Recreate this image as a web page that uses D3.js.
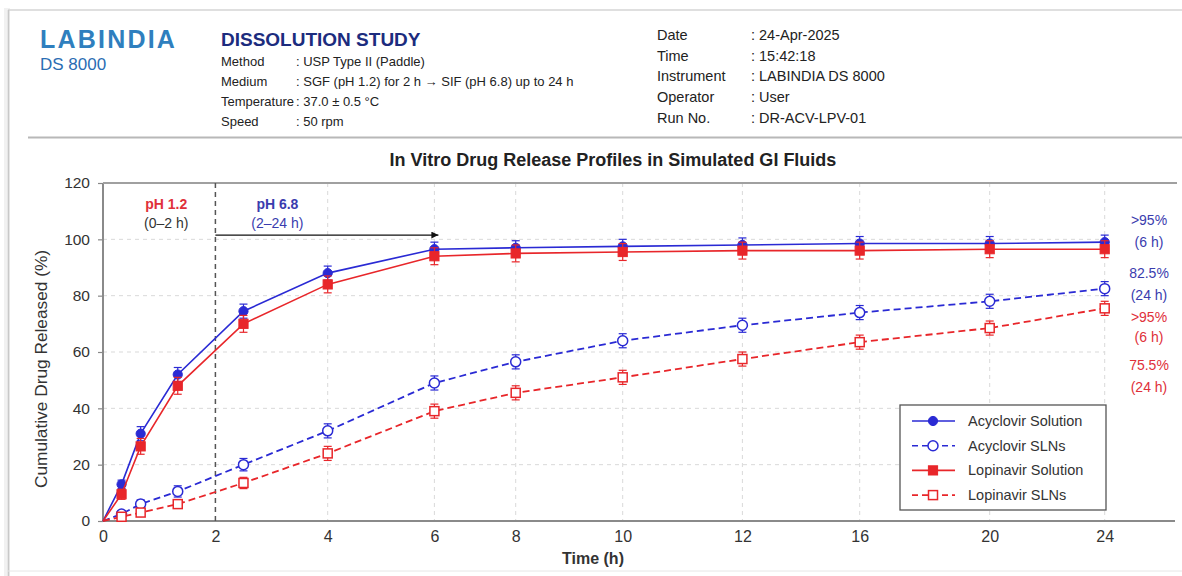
<!DOCTYPE html>
<html>
<head>
<meta charset="utf-8">
<script src="https://cdn.jsdelivr.net/npm/d3@7"></script>
<style>
  html, body { margin: 0; padding: 0; background: #fff; }
  svg { display: block; font-family: "Liberation Sans", Arial, Helvetica, sans-serif; }
</style>
</head>
<body>
<svg id="chart" width="1182" height="576"></svg>
<script>
// ---- Data ----
const timePoints = [0, 0.33, 0.67, 1.33, 2.5, 4, 6, 8, 10, 12, 16, 20, 24];
const acvSolution = [0, 13, 31, 52, 74.5, 88, 96.5, 97, 97.5, 98, 98.5, 98.5, 99];
const acvSolutionSD = [0, 1.5, 2.5, 2.5, 2.5, 2.5, 2.5, 2.5, 2.5, 2.5, 2.5, 2.5, 2.5];
const acvSLN = [0, 2.5, 6, 10.5, 20, 32, 49, 56.5, 64, 69.5, 74, 78, 82.5];
const acvSLNSD = [0, 1.2, 1.5, 2, 2.2, 2.5, 2.5, 2.5, 2.5, 2.5, 2.5, 2.5, 2.5];
const lpvSolution = [0, 9.5, 26.5, 48, 70, 84, 94, 95, 95.5, 96, 96, 96.5, 96.5];
const lpvSolutionSD = [0, 1.8, 2.8, 3, 3, 3, 3, 3, 3, 3, 3, 3, 3];
const lpvSLN = [0, 1.5, 3, 6, 13.5, 24, 39, 45.5, 51, 57.5, 63.5, 68.5, 75.5];
const lpvSLNSD = [0, 1, 1.2, 1.5, 2, 2.5, 2.5, 2.5, 2.5, 2.5, 2.5, 2.5, 2.5];

const xTickValues = [0, 2, 4, 6, 8, 10, 12, 16, 20, 24];
const yTickValues = [0, 20, 40, 60, 80, 100, 120];

const seriesNames = ["Acyclovir Solution", "Acyclovir SLNs", "Lopinavir Solution", "Lopinavir SLNs"];

const headerInfo = [
  ["Method", "USP Type II (Paddle)"],
  ["Medium", "SGF (pH 1.2) for 2 h \u2192 SIF (pH 6.8) up to 24 h"],
  ["Temperature", "37.0 \u00b1 0.5 \u00b0C"],
  ["Speed", "50 rpm"]
];
const runInfo = [
  ["Date", "24-Apr-2025"],
  ["Time", "15:42:18"],
  ["Instrument", "LABINDIA DS 8000"],
  ["Operator", "User"],
  ["Run No.", "DR-ACV-LPV-01"]
];

// ---- Layout ----
const BLUE = "#2a2ad4";
const RED = "#e8262a";
const BLUE_TXT = "#3a3cae";
const RED_TXT = "#e0303a";

const plotLeft = 103, plotTop = 183, plotBottom = 521, plotRight = 1177;
// the time axis is piecewise: each labelled tick sits at its own offset from the origin
const xTickOffsets = [0, 112.4, 224.7, 331.4, 412.7, 519.7, 639.4, 756.7, 886.7, 1001.7];

const svg = d3.select("#chart");

const x = d3.scaleLinear()
  .domain(xTickValues)
  .range(xTickOffsets.map(o => plotLeft + o));
const y = d3.scaleLinear().domain([0, 120]).range([plotBottom, plotTop]);

// ---- Card / header frame ----
svg.append("rect").attr("x", 0).attr("y", 0).attr("width", 1182).attr("height", 576).attr("fill", "#fff");
svg.append("rect").attr("x", 4).attr("y", 8).attr("width", 6).attr("height", 570).attr("fill", "#f1f1f1");
svg.append("line").attr("x1", 8).attr("x2", 1182).attr("y1", 10).attr("y2", 10)
  .attr("stroke", "#d4d4d4").attr("stroke-width", 1.5);
svg.append("line").attr("x1", 8.5).attr("x2", 8.5).attr("y1", 10).attr("y2", 576)
  .attr("stroke", "#c8c8c8").attr("stroke-width", 1.5);
svg.append("line").attr("x1", 28).attr("x2", 1182).attr("y1", 137.5).attr("y2", 137.5)
  .attr("stroke", "#b8b8b8").attr("stroke-width", 2);
svg.append("line").attr("x1", 8).attr("x2", 1182).attr("y1", 571).attr("y2", 571)
  .attr("stroke", "#e6e6e6").attr("stroke-width", 1);

// brand block
svg.append("text").attr("x", 40).attr("y", 48)
  .attr("font-size", 25).attr("font-weight", "bold").attr("letter-spacing", 2.2)
  .attr("fill", "#2f7fbe").text("LABINDIA");
svg.append("text").attr("x", 40).attr("y", 70)
  .attr("font-size", 17).attr("fill", "#2a6db3").text("DS 8000");

// study block
svg.append("text").attr("x", 221).attr("y", 46)
  .attr("font-size", 19).attr("font-weight", "bold").attr("fill", "#1c2c7e")
  .text("DISSOLUTION STUDY");
const hdr = svg.append("g").attr("font-size", 13).attr("fill", "#222");
headerInfo.forEach((row, i) => {
  const yy = 66 + i * 20;
  hdr.append("text").attr("x", 221).attr("y", yy).text(row[0]);
  hdr.append("text").attr("x", 296).attr("y", yy).text(": " + row[1]);
});

// run block
const run = svg.append("g").attr("font-size", 14.5).attr("fill", "#222");
runInfo.forEach((row, i) => {
  const yy = 40 + i * 20.7;
  run.append("text").attr("x", 657).attr("y", yy).text(row[0]);
  run.append("text").attr("x", 751).attr("y", yy).text(": " + row[1]);
});

// ---- Chart title ----
svg.append("text").attr("x", 613).attr("y", 166).attr("text-anchor", "middle")
  .attr("font-size", 18).attr("font-weight", "bold").attr("fill", "#222")
  .text("In Vitro Drug Release Profiles in Simulated GI Fluids");

// ---- Grid ----
const grid = svg.append("g").attr("stroke", "#d9d9d9").attr("stroke-width", 1).attr("stroke-dasharray", "4,4");
yTickValues.filter(v => v > 0 && v < 120).forEach(v => {
  grid.append("line").attr("x1", x(0)).attr("x2", x(24)).attr("y1", y(v)).attr("y2", y(v));
});
xTickValues.filter(v => v > 2).forEach(v => {
  grid.append("line").attr("x1", x(v)).attr("x2", x(v)).attr("y1", y(120)).attr("y2", y(0));
});

// ---- Axes ----
const yAxis = svg.append("g").attr("transform", `translate(${plotLeft},0)`)
  .call(d3.axisLeft(y).tickValues(yTickValues).tickSize(5).tickPadding(8));
yAxis.select(".domain").remove();
yAxis.selectAll(".tick line").attr("stroke", "#888").attr("stroke-width", 1.2);
yAxis.selectAll(".tick text").attr("font-size", 15.5).attr("fill", "#333")
  .attr("font-family", "Liberation Sans, Arial, sans-serif");

const xAxis = svg.append("g").attr("transform", `translate(0,${plotBottom})`)
  .call(d3.axisBottom(x).tickValues(xTickValues).tickFormat(d3.format("d")).tickSize(0).tickPadding(10));
xAxis.select(".domain").remove();
xAxis.selectAll(".tick text").attr("font-size", 16).attr("fill", "#333")
  .attr("font-family", "Liberation Sans, Arial, sans-serif");

svg.append("line").attr("x1", plotLeft).attr("x2", plotLeft).attr("y1", plotTop).attr("y2", plotBottom)
  .attr("stroke", "#8a8a8a").attr("stroke-width", 2);
svg.append("line").attr("x1", plotLeft).attr("x2", 1175).attr("y1", plotBottom).attr("y2", plotBottom)
  .attr("stroke", "#8a8a8a").attr("stroke-width", 2);
svg.append("line").attr("x1", plotLeft).attr("x2", plotRight).attr("y1", plotTop).attr("y2", plotTop)
  .attr("stroke", "#a0a0a0").attr("stroke-width", 2);

svg.append("text").attr("transform", `translate(47,369) rotate(-90)`)
  .attr("text-anchor", "middle").attr("font-size", 17.3).attr("fill", "#333")
  .text("Cumulative Drug Released (%)");
svg.append("text").attr("x", 593).attr("y", 564).attr("text-anchor", "middle")
  .attr("font-size", 16).attr("font-weight", "bold").attr("fill", "#333")
  .text("Time (h)");

// ---- Medium change marker ----
svg.append("line").attr("x1", x(2)).attr("x2", x(2)).attr("y1", y(120)).attr("y2", y(0))
  .attr("stroke", "#555").attr("stroke-width", 1.5).attr("stroke-dasharray", "5,4");

svg.append("defs").append("marker").attr("id", "arrowHead")
  .attr("viewBox", "0 0 10 10").attr("refX", 10).attr("refY", 5)
  .attr("markerWidth", 9).attr("markerHeight", 7).attr("markerUnits", "userSpaceOnUse")
  .attr("orient", "auto")
  .append("path").attr("d", "M0,0 L10,5 L0,10 z").attr("fill", "#111");
svg.append("line").attr("x1", x(2)).attr("x2", x(6) + 4).attr("y1", y(101.5)).attr("y2", y(101.5))
  .attr("stroke", "#111").attr("stroke-width", 1.3).attr("marker-end", "url(#arrowHead)");

const phA = (x(0) + x(2)) / 2 + 7;
const phB = x(2) + 62;
svg.append("text").attr("x", phA).attr("y", 209).attr("text-anchor", "middle")
  .attr("font-size", 14).attr("font-weight", "bold").attr("fill", RED_TXT).text("pH 1.2");
svg.append("text").attr("x", phA).attr("y", 228).attr("text-anchor", "middle")
  .attr("font-size", 14).attr("fill", "#333").text("(0\u20132 h)");
svg.append("text").attr("x", phB).attr("y", 209).attr("text-anchor", "middle")
  .attr("font-size", 14).attr("font-weight", "bold").attr("fill", BLUE_TXT).text("pH 6.8");
svg.append("text").attr("x", phB).attr("y", 228).attr("text-anchor", "middle")
  .attr("font-size", 14).attr("fill", BLUE_TXT).text("(2\u201324 h)");

// ---- Series ----
const series = [
  { name: seriesNames[0], values: acvSolution, sd: acvSolutionSD, color: BLUE, dash: null, shape: "circle", filled: true },
  { name: seriesNames[1], values: acvSLN, sd: acvSLNSD, color: BLUE, dash: "7,4", shape: "circle", filled: false },
  { name: seriesNames[2], values: lpvSolution, sd: lpvSolutionSD, color: RED, dash: null, shape: "square", filled: true },
  { name: seriesNames[3], values: lpvSLN, sd: lpvSLNSD, color: RED, dash: "7,4", shape: "square", filled: false }
];

const line = d3.line().x(d => x(d.t)).y(d => y(d.v));

function drawMarker(g, s, cx, cy) {
  if (s.shape === "circle") {
    g.append("circle").attr("cx", cx).attr("cy", cy).attr("r", s.filled ? 4.6 : 5)
      .attr("fill", s.filled ? s.color : "#fff").attr("stroke", s.color).attr("stroke-width", s.filled ? 1 : 1.5);
  } else {
    const h = s.filled ? 4.6 : 4.5;
    g.append("rect").attr("x", cx - h).attr("y", cy - h).attr("width", 2 * h).attr("height", 2 * h)
      .attr("fill", s.filled ? s.color : "#fff").attr("stroke", s.color).attr("stroke-width", s.filled ? 1 : 1.5);
  }
}

// draw SLN series first so the solution curves sit on top
[1, 3, 0, 2].forEach(idx => {
  const s = series[idx];
  const pts = timePoints.map((t, i) => ({ t, v: s.values[i], e: s.sd[i] }));
  const g = svg.append("g");
  g.append("path").datum(pts).attr("d", line).attr("fill", "none")
    .attr("stroke", s.color).attr("stroke-width", s.dash ? 1.8 : 1.6)
    .attr("stroke-dasharray", s.dash);
  pts.filter(p => p.t > 0).forEach(p => {
    const cx = x(p.t);
    g.append("line").attr("x1", cx).attr("x2", cx).attr("y1", y(p.v - p.e)).attr("y2", y(p.v + p.e))
      .attr("stroke", s.color).attr("stroke-width", 1.2);
    [p.v - p.e, p.v + p.e].forEach(v => {
      g.append("line").attr("x1", cx - 4).attr("x2", cx + 4).attr("y1", y(v)).attr("y2", y(v))
        .attr("stroke", s.color).attr("stroke-width", 1.2);
    });
    drawMarker(g, s, cx, y(p.v));
  });
});

// ---- End-point annotations ----
const last = timePoints.length - 1;
const notes = [
  [">95%", BLUE_TXT], ["(6 h)", BLUE_TXT],
  [acvSLN[last] + "%", BLUE_TXT], ["(" + timePoints[last] + " h)", BLUE_TXT],
  [">95%", RED_TXT], ["(6 h)", RED_TXT],
  [lpvSLN[last] + "%", RED_TXT], ["(" + timePoints[last] + " h)", RED_TXT]
];
const noteY = [225, 247, 278, 300, 322, 342, 370, 392];
notes.forEach((n, i) => {
  svg.append("text").attr("x", 1149).attr("y", noteY[i]).attr("text-anchor", "middle")
    .attr("font-size", 14).attr("fill", n[1]).text(n[0]);
});

// ---- Legend ----
const lg = svg.append("g").attr("transform", "translate(900,405)");
lg.append("rect").attr("width", 206).attr("height", 105).attr("fill", "#fff")
  .attr("stroke", "#555").attr("stroke-width", 1.3);
series.forEach((s, i) => {
  const yy = 16 + i * 24.7;
  lg.append("line").attr("x1", 12).attr("x2", 55).attr("y1", yy).attr("y2", yy)
    .attr("stroke", s.color).attr("stroke-width", 1.6).attr("stroke-dasharray", s.dash ? "6,4" : null);
  drawMarker(lg, s, 33, yy);
  lg.append("text").attr("x", 68).attr("y", yy + 5).attr("font-size", 14.5).attr("fill", "#333").text(s.name);
});
</script>
</body>
</html>
